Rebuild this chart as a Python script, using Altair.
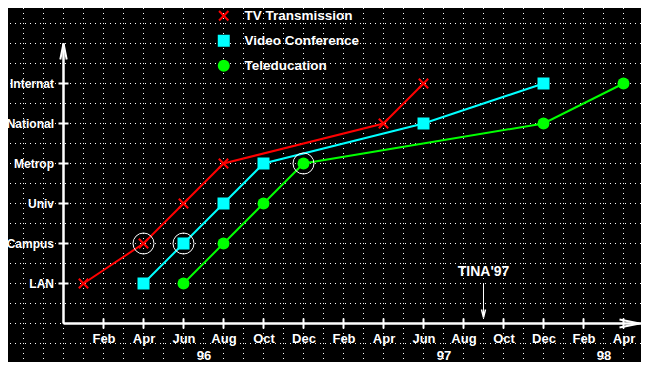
import json
import altair as alt
import pandas as pd

# ---------------- data ----------------
SERIES = ["TV Transmission", "Video Conference", "Teleducation"]
COLORS = ["#ff0000", "#00ffff", "#00ff00"]
LEVELS = ["LAN", "Campus", "Univ", "Metrop", "National", "Internat"]

TV_DATES = ["1996-01", "1996-04", "1996-06", "1996-08", "1997-04", "1997-06"]
TV_LEVELS = ["LAN", "Campus", "Univ", "Metrop", "National", "Internat"]
VC_DATES = ["1996-04", "1996-06", "1996-08", "1996-10", "1997-06", "1997-12"]
VC_LEVELS = ["LAN", "Campus", "Univ", "Metrop", "National", "Internat"]
TE_DATES = ["1996-06", "1996-08", "1996-10", "1996-12", "1997-12", "1998-04"]
TE_LEVELS = ["LAN", "Campus", "Univ", "Metrop", "National", "Internat"]

HIGHLIGHT_DATES = ["1996-04", "1996-06", "1996-12"]
HIGHLIGHT_LEVELS = ["Campus", "Campus", "Metrop"]

TICK_DATES = ["1996-02", "1996-04", "1996-06", "1996-08", "1996-10", "1996-12",
              "1997-02", "1997-04", "1997-06", "1997-08", "1997-10", "1997-12",
              "1998-02", "1998-04"]
TICK_NAMES = ["Feb", "Apr", "Jun", "Aug", "Oct", "Dec",
              "Feb", "Apr", "Jun", "Aug", "Oct", "Dec", "Feb", "Apr"]
YEAR_DATES = ["1996-07", "1997-07", "1998-03"]
YEAR_NAMES = ["96", "97", "98"]

ANNOT_TEXT = ["TINA'97"]
ANNOT_DATE = ["1997-09"]

# axis geometry (in data units: months since Dec 1995, level index)
ORIGIN_T = 0
AXIS_LEVEL = -1
X_AXIS_END = 28.9
Y_AXIS_END = 6.0

FONT = "Liberation Sans"


def mi(s):
    y, m = map(int, s.split("-"))
    return (y - 1995) * 12 + m - 12


xs = alt.Scale(domain=[-2.775, 28.875], nice=False, zero=False)
ys = alt.Scale(domain=[-1.9625, 6.8875], nice=False, zero=False)

# x axis labels (two lines: month / year)
lab = [["", ""] for _ in range(40)]
for d, n in zip(TICK_DATES, TICK_NAMES):
    lab[mi(d)] = [n, ""]
for d, n in zip(YEAR_DATES, YEAR_NAMES):
    lab[mi(d)] = ["", n]
x_values = [mi(d) for d in TICK_DATES] + [mi(d) for d in YEAR_DATES]

x_axis = alt.Axis(values=x_values, labelExpr=json.dumps(lab) + "[datum.value]",
                  orient="bottom", offset=-38.5, domain=False, ticks=False, grid=False,
                  labelColor="white", labelFont=FONT, labelFontWeight="bold",
                  labelFontSize=13, labelPadding=9, labelLineHeight=17,
                  labelBaseline="top", labelOverlap=False, labelFlush=False, title=None)
y_axis = alt.Axis(values=list(range(len(LEVELS))),
                  labelExpr=json.dumps(LEVELS) + "[datum.value]",
                  orient="left", offset=-55.5, domain=False, ticks=False, grid=False,
                  labelColor="white", labelFont=FONT, labelFontWeight="bold",
                  labelFontSize=12, labelPadding=10, labelOverlap=False,
                  labelFlush=False, title=None)


def X(f="t"):
    return alt.X(f + ":Q", scale=xs, axis=x_axis)


def Y(f="L"):
    return alt.Y(f + ":Q", scale=ys, axis=y_axis)


rows = []
for s, dates, levels in zip(SERIES, [TV_DATES, VC_DATES, TE_DATES],
                            [TV_LEVELS, VC_LEVELS, TE_LEVELS]):
    for d, l in zip(dates, levels):
        rows.append({"series": s, "t": mi(d), "L": LEVELS.index(l)})
df = pd.DataFrame(rows)

grid_x = pd.DataFrame({"t": list(range(-2, 29))})
grid_y = pd.DataFrame({"L": [i * 0.5 for i in range(-3, 14)]})

axes_df = pd.DataFrame({
    "t": [ORIGIN_T, ORIGIN_T], "t2": [X_AXIS_END, ORIGIN_T],
    "L": [AXIS_LEVEL, AXIS_LEVEL], "L2": [AXIS_LEVEL, Y_AXIS_END]})
xt_df = pd.DataFrame({"t": [mi(d) for d in TICK_DATES], "L": AXIS_LEVEL})
yt_df = pd.DataFrame({"t": ORIGIN_T, "L": list(range(len(LEVELS)))})
hl_df = pd.DataFrame({"t": [mi(d) for d in HIGHLIGHT_DATES],
                      "L": [LEVELS.index(l) for l in HIGHLIGHT_LEVELS]})
annot_df = pd.DataFrame({"text": ANNOT_TEXT, "t": [mi(d) for d in ANNOT_DATE],
                         "L": [0.3], "La": [0.0], "Lb": [-0.85], "Lh": [-0.75]})
xarrow_df = pd.DataFrame({"t": [X_AXIS_END - 0.6], "L": [AXIS_LEVEL]})
yarrow_df = pd.DataFrame({"t": [ORIGIN_T], "L": [Y_AXIS_END - 0.2]})

GRID = dict(color="white", strokeWidth=1, strokeDash=[1, 4])

vgrid = alt.Chart(grid_x).mark_rule(**GRID).encode(x=X())
hgrid = alt.Chart(grid_y).mark_rule(**GRID).encode(y=Y())

axis_lines = alt.Chart(axes_df).mark_rule(color="white", strokeWidth=2.5).encode(
    x=X(), x2="t2:Q", y=Y(), y2="L2:Q")
xticks = alt.Chart(xt_df).mark_tick(orient="vertical", size=10, thickness=2,
                                    color="white", opacity=1).encode(x=X(), y=Y())
yticks = alt.Chart(yt_df).mark_tick(orient="horizontal", size=10, thickness=2,
                                    color="white", opacity=1).encode(x=X(), y=Y())
xarrow = alt.Chart(xarrow_df).mark_point(
    shape="M1,0L-1,-0.4M1,0L-1,0.4", size=400, stroke="white", strokeWidth=2,
    filled=False, opacity=1).encode(x=X(), y=Y())
yarrow = alt.Chart(yarrow_df).mark_point(
    shape="M0,-1L-0.4,1M0,-1L0.4,1", size=256, stroke="white", strokeWidth=2,
    filled=False, opacity=1).encode(x=X(), y=Y())

line_layers = [
    alt.Chart(df[df.series == s]).mark_line(strokeWidth=2, color=c).encode(x=X(), y=Y())
    for s, c in zip(SERIES, COLORS)
]

# filled "X" polygon for the TV Transmission marker
d, k = 0.16, 0.78
a = 2 * d
pts = [(0, -a), (1 - d, -1 - d), (1 + d, -1 + d), (a, 0), (1 + d, 1 - d), (1 - d, 1 + d),
       (0, a), (-1 + d, 1 + d), (-1 - d, 1 - d), (-a, 0), (-1 - d, -1 + d), (-1 + d, -1 - d)]
X_SHAPE = "M" + "L".join(f"{k * px:.3f},{k * py:.3f}" for px, py in pts) + "Z"

leg = alt.Legend(orient="none", legendX=209, legendY=1, title=None, padding=0,
                 labelColor="white", labelFont=FONT, labelFontWeight="bold",
                 labelFontSize=13.5, labelOffset=14, rowPadding=10,
                 symbolSize=144, symbolStrokeWidth=0, symbolOpacity=1)
points = alt.Chart(df).mark_point(filled=True, size=144, opacity=1).encode(
    x=X(), y=Y(),
    color=alt.Color("series:N", scale=alt.Scale(domain=SERIES, range=COLORS), legend=leg),
    shape=alt.Shape("series:N", scale=alt.Scale(
        domain=SERIES, range=[X_SHAPE, "square", "circle"]), legend=leg))

highlights = alt.Chart(hl_df).mark_point(shape="circle", size=441, stroke="white",
                                         strokeWidth=1, filled=False, opacity=1).encode(
    x=X(), y=Y())

annot_text = alt.Chart(annot_df).mark_text(color="white", font=FONT, fontSize=14,
                                           fontWeight="bold",
                                           align="center", baseline="middle").encode(
    x=X(), y=Y(), text="text:N")
annot_line = alt.Chart(annot_df).mark_rule(color="white", strokeWidth=1).encode(
    x=X(), y=Y("La"), y2="Lb:Q")
annot_head = alt.Chart(annot_df).mark_point(
    shape="M0,1L-0.5,-1M0,1L0.5,-1", size=64, stroke="white", strokeWidth=1.5,
    filled=False, opacity=1).encode(x=X(), y=Y("Lh"))

chart = alt.layer(
    vgrid, hgrid, axis_lines, xticks, yticks, xarrow, yarrow,
    *line_layers, points, highlights, annot_line, annot_head, annot_text
).properties(
    width=633, height=354, background="black", padding=0,
    autosize=alt.AutoSizeParams(type="none")
).configure_view(strokeWidth=0)

chart.save("out.html", embed_options={"renderer": "svg", "actions": False})
